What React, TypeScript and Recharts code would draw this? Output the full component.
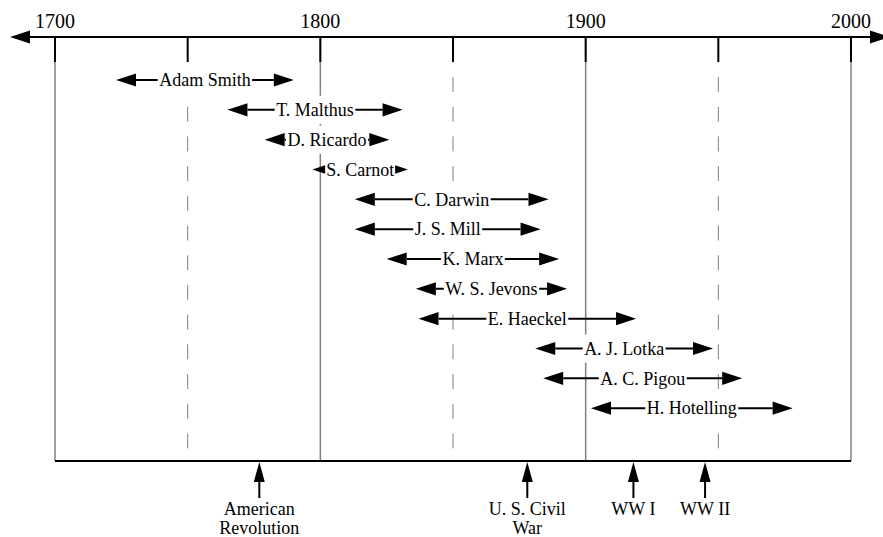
import React from 'react';
import { Bar, BarChart, CartesianGrid, XAxis, YAxis } from 'recharts';

const names = [
  'Adam Smith',
  'T. Malthus',
  'D. Ricardo',
  'S. Carnot',
  'C. Darwin',
  'J. S. Mill',
  'K. Marx',
  'W. S. Jevons',
  'E. Haeckel',
  'A. J. Lotka',
  'A. C. Pigou',
  'H. Hotelling',
];
const born = [1723, 1765, 1779, 1797, 1813, 1813, 1825, 1836, 1837, 1881, 1884, 1902];
const died = [1790, 1831, 1826, 1833, 1886, 1883, 1890, 1893, 1919, 1948, 1959, 1978];

const yearTicks = [1700, 1750, 1800, 1850, 1900, 1950, 2000];

const eventYears = [1777, 1878, 1918, 1945];
const eventLabels = [['American', 'Revolution'], ['U. S. Civil', 'War'], ['WW I'], ['WW II']];

const data = names.map((name, i) => ({ name, span: [born[i], died[i]] }));

const FONT = '"Liberation Serif", "Times New Roman", serif';
const AXIS_Y = 37;

// width of a label, so the arrow line can stop at the text
let ctx: CanvasRenderingContext2D | null = null;
const textWidth = (s: string, size: number) => {
  if (!ctx) ctx = document.createElement('canvas').getContext('2d');
  if (!ctx) return s.length * size * 0.5;
  ctx.font = `${size}px "Liberation Serif"`;
  return ctx.measureText(s).width;
};

const LifeArrow = (props: any) => {
  const { x, y, width, height, payload } = props;
  const cy = y + height / 2;
  const x1 = x;
  const x2 = x + width;
  const cx = (x1 + x2) / 2;
  const tw = textWidth(payload.name, 18);
  // heads shrink when the span is short
  const head = Math.max(10, Math.min(20, (width - tw) / 2 - 1));
  const half = head * 0.33;
  const w = tw + 3;
  return (
    <g>
      <line x1={x1 + head} x2={x2 - head} y1={cy} y2={cy} stroke="#000" strokeWidth={2} />
      <rect x={cx - w / 2} y={cy - 14} width={w} height={28} fill="#fff" />
      <text x={cx} y={cy} dy="0.35em" textAnchor="middle" fontFamily={FONT} fontSize={18} fill="#000">
        {payload.name}
      </text>
      <polygon points={`${x1},${cy} ${x1 + head},${cy - half} ${x1 + head},${cy + half}`} fill="#000" />
      <polygon points={`${x2},${cy} ${x2 - head},${cy - half} ${x2 - head},${cy + half}`} fill="#000" />
    </g>
  );
};

const GridLine = (props: any) => {
  const { x1, y1, x2, y2, index } = props;
  const halfCentury = yearTicks[index] % 100 !== 0;
  return (
    <line
      key={`grid-${index}`}
      x1={x1}
      y1={y1}
      x2={x2}
      y2={y2}
      stroke="#808080"
      strokeWidth={halfCentury ? 1 : 1.5}
      strokeDasharray={halfCentury ? '15 14.7' : undefined}
      strokeDashoffset={halfCentury ? 19.4 : undefined}
    />
  );
};

const YearTick = (props: any) => {
  const { x, y, payload } = props;
  const century = payload.value % 100 === 0;
  return (
    <g>
      <line x1={x} x2={x} y1={AXIS_Y} y2={AXIS_Y + 25} stroke="#000" strokeWidth={2} />
      {century && (
        <text x={x} y={y} textAnchor="middle" fontFamily={FONT} fontSize={20} fill="#000">
          {payload.value}
        </text>
      )}
    </g>
  );
};

const EventTick = (props: any) => {
  const { x, y, payload } = props;
  const lines = eventLabels[eventYears.indexOf(payload.value)] || [];
  return (
    <g>
      <polygon points={`${x},${y + 1} ${x - 5.5},${y + 21} ${x + 5.5},${y + 21}`} fill="#000" />
      <line x1={x} x2={x} y1={y + 20} y2={y + 37} stroke="#000" strokeWidth={2} />
      {lines.map((line, i) => (
        <text
          key={line}
          x={x}
          y={y + 54 + i * 19}
          textAnchor="middle"
          fontFamily={FONT}
          fontSize={18}
          fill="#000"
        >
          {line}
        </text>
      ))}
    </g>
  );
};

export default function App() {
  return (
    <div style={{ position: 'absolute', left: 0, top: 0, background: '#fff' }}>
      <BarChart
        width={883}
        height={537}
        data={data}
        layout="vertical"
        margin={{ top: 0, right: 32, bottom: 0, left: 55 }}
      >
        <defs>
          <marker
            id="axisStart"
            markerUnits="userSpaceOnUse"
            markerWidth={46}
            markerHeight={14}
            refX={45}
            refY={7}
            orient="auto"
          >
            <path d="M0,7 L20,0.5 L20,13.5 Z" fill="#000" />
            <line x1={19} y1={7} x2={46} y2={7} stroke="#000" strokeWidth={2} />
          </marker>
          <marker
            id="axisEnd"
            markerUnits="userSpaceOnUse"
            markerWidth={40}
            markerHeight={14}
            refX={0}
            refY={7}
            orient="auto"
          >
            <line x1={0} y1={7} x2={20} y2={7} stroke="#000" strokeWidth={2} />
            <path d="M19,0.5 L39,7 L19,13.5 Z" fill="#000" />
          </marker>
        </defs>
        <CartesianGrid xAxisId="top" horizontal={false} vertical={GridLine} />
        <XAxis
          xAxisId="top"
          orientation="top"
          type="number"
          domain={[1700, 2000]}
          allowDataOverflow
          ticks={yearTicks}
          interval={0}
          height={37}
          tickSize={0}
          tickMargin={9}
          tickLine={false}
          tick={YearTick}
          axisLine={{
            stroke: '#000',
            strokeWidth: 2,
            markerStart: 'url(#axisStart)',
            markerEnd: 'url(#axisEnd)',
          }}
        />
        <XAxis
          xAxisId="bottom"
          orientation="bottom"
          type="number"
          domain={[1700, 2000]}
          allowDataOverflow
          ticks={eventYears}
          interval={0}
          height={76}
          tickSize={0}
          tickMargin={0}
          tickLine={false}
          tick={EventTick}
          axisLine={{ stroke: '#000', strokeWidth: 2 }}
        />
        <YAxis type="category" dataKey="name" hide padding={{ top: 28, bottom: 38 }} />
        <Bar dataKey="span" xAxisId="top" shape={LifeArrow} isAnimationActive={false} />
      </BarChart>
    </div>
  );
}
